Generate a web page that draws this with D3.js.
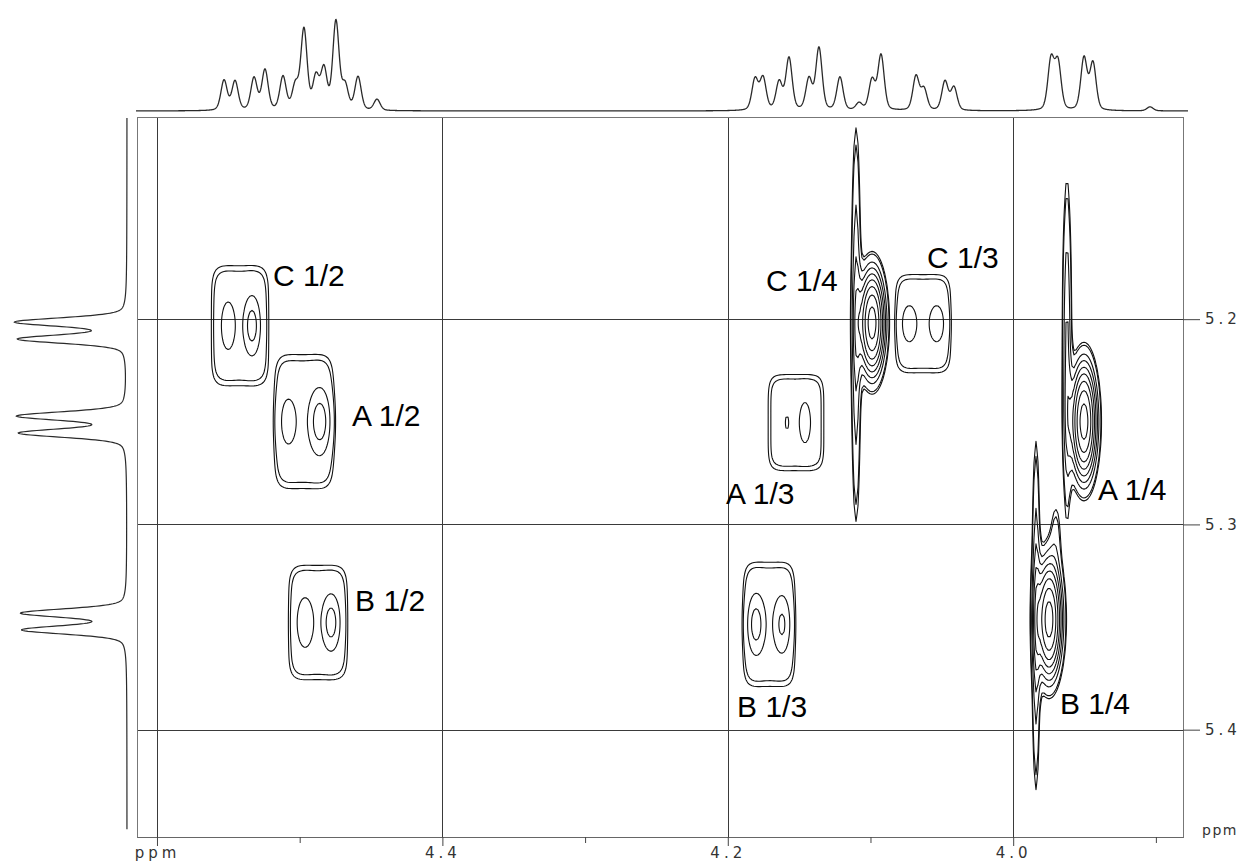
<!DOCTYPE html>
<html>
<head>
<meta charset="utf-8">
<script src="https://cdn.jsdelivr.net/npm/d3@7"></script>
<style>
  body { margin: 0; background: #fff; }
  svg { display: block; }
</style>
</head>
<body>
<div id="chart"></div>
<script>
// axis ticks (ppm)
var xMajorTicks = [4.6, 4.4, 4.2, 4.0];
var xTickLabels = ["ppm", "4.4", "4.2", "4.0"];
var xMinorTicks = [4.5, 4.3, 4.1, 3.9];
var yTicks = [5.2, 5.3, 5.4];
var yTickLabels = ["5.2", "5.3", "5.4"];

// 1D projections: [shift ppm, height]
var topPeaks = [
  [4.5530, 30], [4.5453, 29], [4.5320, 32], [4.5243, 40], [4.5117, 33], [4.5030, 24],
  [4.4970, 80], [4.4886, 32], [4.4830, 40], [4.4746, 88], [4.4682, 24], [4.4591, 33], [4.4458, 11],
  [4.1809, 31], [4.1753, 32], [4.1640, 28], [4.1571, 52], [4.1431, 31], [4.1361, 62], [4.1214, 33],
  [4.1080, 7], [4.0989, 30], [4.0926, 55], [4.0681, 34], [4.0625, 21], [4.0478, 29], [4.0415, 23],
  [3.9735, 50], [3.9686, 47], [3.9504, 52], [3.9441, 47], [3.9041, 4]
];
var leftPeaks = [
  [5.2014, 110], [5.2097, 107], [5.2472, 108], [5.2555, 106], [5.3432, 104], [5.3514, 103]
];

// two-lobed cross peaks: [lobe 1 F2, lobe 2 F2, F1, half width, half height, amp 1, amp 2]
var multiplets = [
  [4.5502, 4.5334, 5.2032, 0.0200, 0.0292, 0.11, 0.18], // C 1/2
  [4.5082, 4.4858, 5.2499, 0.0205, 0.0326, 0.09, 0.19], // A 1/2
  [4.4963, 4.4780, 5.3478, 0.0205, 0.0278, 0.13, 0.18], // B 1/2
  [4.1585, 4.1459, 5.2504, 0.0195, 0.0234, 0.055, 0.12], // A 1/3
  [4.1802, 4.1620, 5.3487, 0.0180, 0.0302, 0.18, 0.15], // B 1/3
  [4.0730, 4.0534, 5.2022, 0.0192, 0.0239, 0.10, 0.10]  // C 1/3
];
// strong cross peaks with their t1 streaks: [peak, F2, F1, width, height, amp]
var strongPeaks = [
  [0, 4.0989, 5.2018, 0.0077, 0.0219, 1.25], // C 1/4
  [0, 4.1101, 5.2027, 0.0033, 0.0915, 0.30],
  [1, 3.9504, 5.2499, 0.0077, 0.0243, 1.25], // A 1/4
  [1, 3.9623, 5.2149, 0.0032, 0.0790, 0.30],
  [2, 3.9749, 5.3463, 0.0077, 0.0243, 1.25], // B 1/4
  [2, 3.9840, 5.3444, 0.0028, 0.0810, 0.30],
  [2, 3.9700, 5.3027, 0.0045, 0.0200, 0.12]
];

var peakLabels = ["C 1/2", "A 1/2", "B 1/2", "C 1/4", "C 1/3", "A 1/3", "B 1/3", "A 1/4", "B 1/4"];
var labelF2 = [4.5187, 4.4633, 4.4612, 4.1732, 4.0604, 4.2012, 4.1935, 3.9405, 3.9672];
var labelF1 = [5.1838, 5.2519, 5.3424, 5.1862, 5.1750, 5.2899, 5.3940, 5.2879, 5.3925];

var contourLevels = [0.1, 0.12, 0.2, 0.28, 0.38, 0.5, 0.65, 0.85, 1.1];

// page and plot box
var svgWidth = 1244;
var svgHeight = 863;
var plot = { left: 137, right: 1183, top: 117, bottom: 837 };

var svg = d3.select("#chart")
  .append("svg")
  .attr("width", svgWidth)
  .attr("height", svgHeight);

var xScale = d3.scaleLinear()
  .domain([4.614, 3.881])
  .range([plot.left, plot.right]);

var yScale = d3.scaleLinear()
  .domain([5.1015, 5.4523])
  .range([plot.top, plot.bottom]);

var topY = d3.scaleLinear().domain([0, 100]).range([111, 11]);
var leftX = d3.scaleLinear().domain([0, 100]).range([127, 27]);

// line shape, mostly gaussian with a bit of lorentzian tail
function lineShape(d, w) {
  var g = Math.exp(-Math.LN2 * d * d / (w * w));
  var l = w * w / (d * d + w * w);
  return 0.7 * g + 0.3 * l;
}

function spectrum(peaks, from, to, w) {
  var pts = [];
  var n = Math.round(Math.abs(to - from) / 0.0002);
  for (var i = 0; i <= n; i++) {
    var s = from + (to - from) * i / n;
    var v = 0;
    peaks.forEach(function(p) { v += p[1] * lineShape(s - p[0], w); });
    pts.push([s, v]);
  }
  return pts;
}

// grid lines and frame
var gridGroup = svg.append("g")
  .attr("stroke", "#3a3a3a")
  .attr("stroke-width", 1)
  .attr("shape-rendering", "crispEdges");

gridGroup.selectAll(".vgrid")
  .data(xMajorTicks)
  .enter()
  .append("line")
  .attr("x1", d => Math.round(xScale(d)) + 0.5)
  .attr("x2", d => Math.round(xScale(d)) + 0.5)
  .attr("y1", plot.top)
  .attr("y2", plot.bottom);

gridGroup.selectAll(".hgrid")
  .data(yTicks)
  .enter()
  .append("line")
  .attr("x1", plot.left)
  .attr("x2", plot.right)
  .attr("y1", d => Math.round(yScale(d)) + 0.5)
  .attr("y2", d => Math.round(yScale(d)) + 0.5);

gridGroup.append("rect")
  .attr("x", plot.left + 0.5)
  .attr("y", plot.top + 0.5)
  .attr("width", plot.right - plot.left)
  .attr("height", plot.bottom - plot.top)
  .attr("fill", "none")
  .attr("stroke", "#777");

// contour field: each cross peak is summed on its own, peaks are combined by max
var step = 2;
var nx = Math.ceil((plot.right - plot.left) / step);
var ny = Math.ceil((plot.bottom - plot.top) / step);

var groups = [];
multiplets.forEach(function(m) {
  var sep = Math.abs(m[1] - m[0]);
  groups.push([
    { x: (m[0] + m[1]) / 2, y: m[2], sx: m[3] / 0.86, sy: m[4] / 0.86, a: 0.15, box: true },
    { x: m[0], y: m[2], sx: 0.33 * sep, sy: 0.45 * m[4], a: m[5], box: false },
    { x: m[1], y: m[2], sx: 0.33 * sep, sy: 0.45 * m[4], a: m[6], box: false }
  ]);
});
var strongStart = groups.length;
strongPeaks.forEach(function(p) {
  var g = strongStart + p[0];
  if (!groups[g]) groups[g] = [];
  groups[g].push({ x: p[1], y: p[2], sx: p[3], sy: p[4], a: p[5], box: false });
});

var values = new Float64Array(nx * ny);
for (var j = 0; j < ny; j++) {
  var f1 = yScale.invert(plot.top + (j + 0.5) * step);
  for (var i = 0; i < nx; i++) {
    var f2 = xScale.invert(plot.left + (i + 0.5) * step);
    var best = 0;
    for (var g = 0; g < groups.length; g++) {
      var v = 0;
      for (var k = 0; k < groups[g].length; k++) {
        var c = groups[g][k];
        var u = (f2 - c.x) / c.sx;
        var w = (f1 - c.y) / c.sy;
        if (Math.abs(u) > 4 || Math.abs(w) > 4) continue;
        if (c.box) v += c.a * Math.exp(-(Math.pow(Math.abs(u), 6) + Math.pow(Math.abs(w), 6)));
        else v += c.a * Math.exp(-(u * u + w * w));
      }
      if (v > best) best = v;
    }
    values[j * nx + i] = best;
  }
}

var contours = d3.contours()
  .size([nx, ny])
  .thresholds(contourLevels)(values);

var toPage = d3.geoTransform({
  point: function(x, y) {
    this.stream.point(plot.left + x * step, plot.top + y * step);
  }
});

svg.append("g")
  .selectAll("path")
  .data(contours)
  .enter()
  .append("path")
  .attr("d", d3.geoPath(toPage))
  .attr("fill", "none")
  .attr("stroke", "#111")
  .attr("stroke-width", 1.1)
  .attr("stroke-linejoin", "round");

// 1D spectra
var topLine = d3.line()
  .x(d => xScale(d[0]))
  .y(d => topY(d[1]));

svg.append("path")
  .datum(spectrum(topPeaks, 4.6147, 3.8775, 0.0026))
  .attr("d", topLine)
  .attr("fill", "none")
  .attr("stroke", "#2a2a2a")
  .attr("stroke-width", 1.3);

var leftLine = d3.line()
  .x(d => leftX(d[1]))
  .y(d => yScale(d[0]));

svg.append("path")
  .datum(spectrum(leftPeaks, 5.102, 5.4485, 0.0024))
  .attr("d", leftLine)
  .attr("fill", "none")
  .attr("stroke", "#2a2a2a")
  .attr("stroke-width", 1.2);

// axes
var tickFont = function(g) {
  g.selectAll("text")
    .attr("font-family", "DejaVu Sans")
    .attr("font-size", 15)
    .attr("letter-spacing", "4px")
    .attr("fill", "#333");
  g.selectAll("line").attr("stroke", "#444");
  g.select(".domain").attr("stroke", "#666");
};

svg.append("g")
  .attr("transform", `translate(0,${plot.bottom})`)
  .call(d3.axisBottom(xScale)
    .tickValues(xMajorTicks)
    .tickSize(9)
    .tickSizeOuter(0)
    .tickPadding(1)
    .tickFormat((d, i) => xTickLabels[i]))
  .call(tickFont);

svg.append("g")
  .attr("transform", `translate(0,${plot.bottom})`)
  .call(d3.axisBottom(xScale)
    .tickValues(xMinorTicks)
    .tickSize(6)
    .tickSizeOuter(0)
    .tickFormat(""))
  .call(tickFont)
  .call(g => g.select(".domain").remove());

svg.append("g")
  .attr("transform", `translate(${plot.right},0)`)
  .call(d3.axisRight(yScale)
    .tickValues(yTicks)
    .tickSize(17)
    .tickPadding(5)
    .tickFormat((d, i) => yTickLabels[i]))
  .call(tickFont)
  .call(g => g.select(".domain").remove());

svg.append("text")
  .attr("x", plot.right + 19)
  .attr("y", yScale(5.4523) - 2)
  .attr("font-family", "DejaVu Sans")
  .attr("font-size", 14)
  .attr("letter-spacing", "1.5px")
  .attr("fill", "#333")
  .text("ppm");

// cross peak labels
svg.append("g")
  .selectAll("text")
  .data(peakLabels)
  .enter()
  .append("text")
  .attr("x", (d, i) => xScale(labelF2[i]))
  .attr("y", (d, i) => yScale(labelF1[i]))
  .attr("font-family", "Liberation Sans, Arial, sans-serif")
  .attr("font-size", 30)
  .attr("fill", "#000")
  .text(d => d);
</script>
</body>
</html>
